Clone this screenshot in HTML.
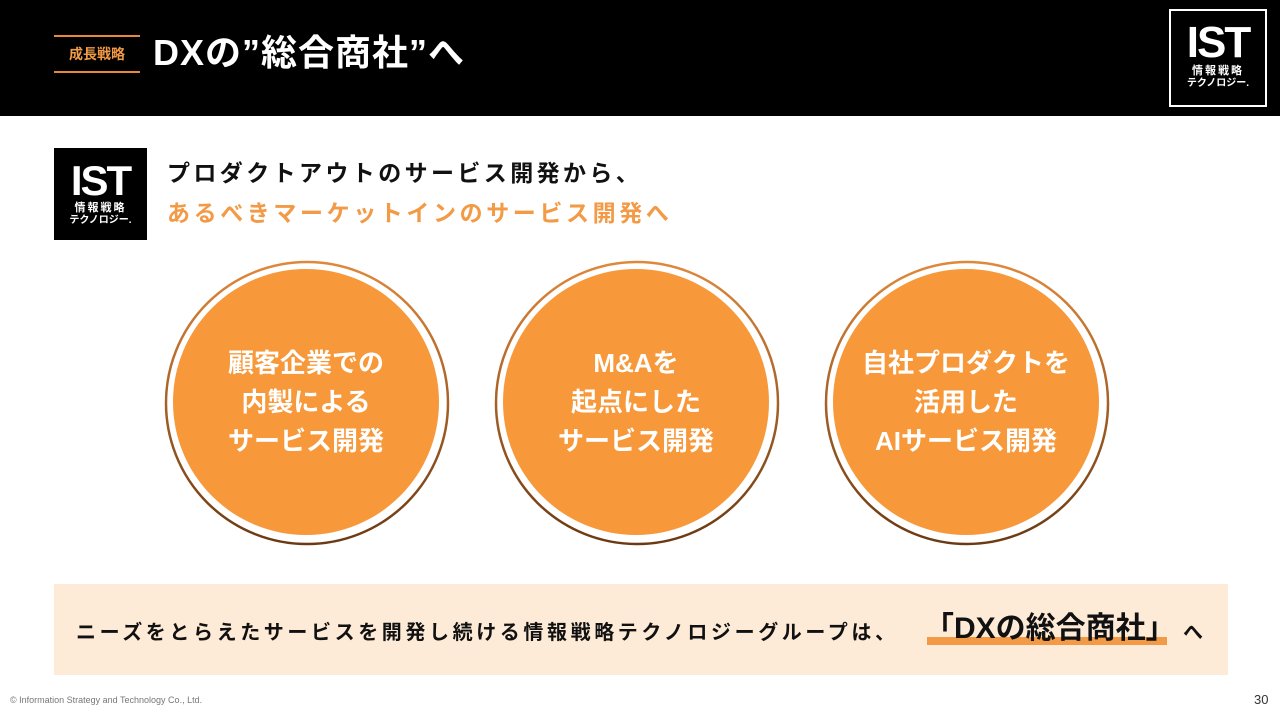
<!DOCTYPE html>
<html><head><meta charset="utf-8"><style>
*{margin:0;padding:0;box-sizing:border-box}
body{width:1280px;height:720px;position:relative;background:#fff;font-family:"Liberation Sans","Noto Sans CJK JP",sans-serif;overflow:hidden}
.hdr{position:absolute;left:0;top:0;width:1280px;height:116px;background:#000}
.tag{position:absolute;left:54px;top:35px;width:86px;height:38px;border-top:2px solid #e8883a;border-bottom:2px solid #e8883a;color:#f29a45;font-size:14px;font-weight:bold;text-align:center;line-height:34px}
.title{position:absolute;left:153px;top:28px;color:#fff;font-size:36px;font-weight:bold;line-height:50px;letter-spacing:1px}
.logo{position:absolute;background:#000;color:#fff;text-align:center;font-weight:bold}
.circ{position:absolute;width:286px;height:286px;border-radius:50%;}
.inner{position:absolute;left:9px;top:9px;width:266px;height:266px;border-radius:50%;background:#f7993a;color:#fff;font-size:26px;font-weight:bold;display:flex;align-items:center;justify-content:center;text-align:center;line-height:39px}
</style></head><body>
<div class="hdr"></div>
<div class="tag">成長戦略</div>
<div class="title">DXの”総合商社”へ</div>
<div class="logo" style="left:1169px;top:9px;width:98px;height:98px;border:2px solid #fff;">
<div style="font-size:44px;line-height:44px;margin-top:10px;font-family:'Liberation Sans',sans-serif;letter-spacing:-2px">IST</div>
<div style="font-size:11px;line-height:13px;letter-spacing:2px">情報戦略</div>
<div style="font-size:10px;line-height:12px">テクノロジー.</div>
</div>
<div class="logo" style="left:54px;top:148px;width:93px;height:92px;">
<div style="font-size:42px;line-height:42px;margin-top:12px;letter-spacing:-2px">IST</div>
<div style="font-size:11px;line-height:13px;letter-spacing:2px">情報戦略</div>
<div style="font-size:10px;line-height:12px">テクノロジー.</div>
</div>
<div style="position:absolute;left:167px;top:156px;font-size:23px;font-weight:bold;letter-spacing:3.4px;line-height:34px;color:#111">プロダクトアウトのサービス開発から、</div>
<div style="position:absolute;left:167px;top:196px;font-size:23px;font-weight:bold;letter-spacing:3.6px;line-height:34px;color:#f29a45">あるべきマーケットインのサービス開発へ</div>

<svg style="position:absolute;left:0;top:0" width="1280" height="720">
<defs><linearGradient id="g" x1="0" y1="0" x2="0" y2="1"><stop offset="0" stop-color="#e0883a"/><stop offset="1" stop-color="#6b3a12"/></linearGradient></defs>
<circle cx="307" cy="403" r="141" fill="none" stroke="url(#g)" stroke-width="2.5"/>
<circle cx="637" cy="403" r="141" fill="none" stroke="url(#g)" stroke-width="2.5"/>
<circle cx="967" cy="403" r="141" fill="none" stroke="url(#g)" stroke-width="2.5"/>
</svg>
<div class="circ" style="left:164px;top:260px"><div class="inner">顧客企業での<br>内製による<br>サービス開発</div></div>
<div class="circ" style="left:494px;top:260px"><div class="inner">M&amp;Aを<br>起点にした<br>サービス開発</div></div>
<div class="circ" style="left:824px;top:260px"><div class="inner">自社プロダクトを<br>活用した<br>AIサービス開発</div></div>

<div style="position:absolute;left:54px;top:584px;width:1174px;height:91px;background:#fdebd8"></div>
<div style="position:absolute;left:927px;top:637px;width:240px;height:8px;background:#f29a45"></div>
<div style="position:absolute;left:76px;top:618px;font-size:20px;font-weight:bold;letter-spacing:3.6px;line-height:30px;color:#111">ニーズをとらえたサービスを開発し続ける情報戦略テクノロジーグループは、</div>
<div style="position:absolute;left:924px;top:608px;font-size:30px;font-weight:bold;line-height:42px;color:#111">「DXの総合商社」</div>
<div style="position:absolute;left:1183px;top:618px;font-size:20px;font-weight:bold;line-height:30px;color:#111">へ</div>
<div style="position:absolute;left:10px;top:695px;font-size:9px;color:#777">© Information Strategy and Technology Co., Ltd.</div>
<div style="position:absolute;left:1254px;top:692px;font-size:13px;color:#333">30</div>
</body></html>
